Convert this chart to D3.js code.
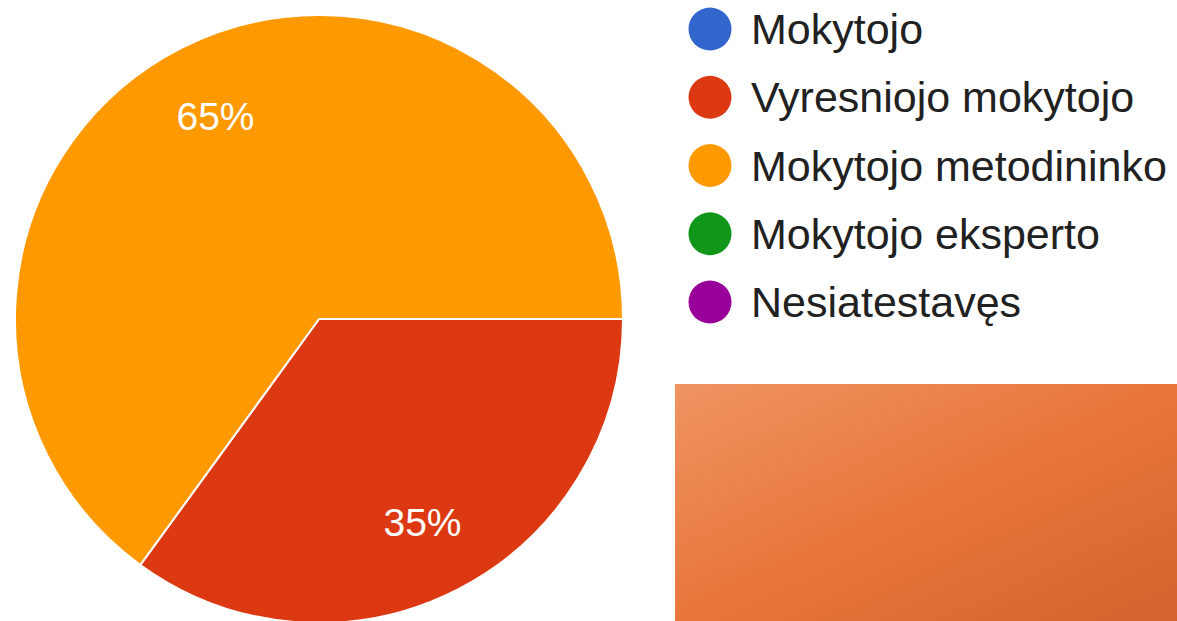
<!DOCTYPE html>
<html>
<head>
<meta charset="utf-8">
<script src="https://cdn.jsdelivr.net/npm/d3@7"></script>
<style>
  html, body { margin: 0; padding: 0; background: #fff; overflow: hidden; }
  svg { display: block; font-family: "Liberation Sans", Arial, sans-serif; }
</style>
</head>
<body>
<div id="chart"></div>
<script>
// categories and their shares (percent of answers)
var categories = ["Mokytojo", "Vyresniojo mokytojo", "Mokytojo metodininko", "Mokytojo eksperto", "Nesiatestavęs"];
var values = [0, 35, 65, 0, 0];
var colors = ["#3366cc", "#dc3912", "#ff9900", "#109618", "#990099"];

var width = 1177,
    height = 621;
var cx = 319, cy = 319,
    radius = 304;

var svg = d3.select("#chart").append("svg")
    .attr("width", width)
    .attr("height", height);

var data = categories.map(function(c, i) { return { name: c, value: values[i], color: colors[i] }; });

var pie = d3.pie()
    .sort(null)
    .startAngle(Math.PI / 2)
    .endAngle(Math.PI / 2 + 2 * Math.PI)
    .value(function(d) { return d.value; });

var arc = d3.arc()
    .innerRadius(0)
    .outerRadius(radius);

var labelArc = d3.arc()
    .innerRadius(radius * 0.75)
    .outerRadius(radius * 0.75);

var total = d3.sum(values);

var g = svg.append("g")
    .attr("transform", "translate(" + cx + "," + cy + ")");

var slices = pie(data).filter(function(d) { return d.data.value > 0; });

g.selectAll("path.slice")
    .data(slices)
  .enter().append("path")
    .attr("class", "slice")
    .attr("d", arc)
    .attr("fill", function(d) { return d.data.color; })
    .attr("stroke", "#fff")
    .attr("stroke-width", 2)
    .attr("stroke-linejoin", "round");

g.selectAll("text.pct")
    .data(slices)
  .enter().append("text")
    .attr("class", "pct")
    .attr("transform", function(d) { return "translate(" + labelArc.centroid(d) + ")"; })
    .attr("text-anchor", "middle")
    .attr("dy", "0.36em")
    .attr("fill", "#fff")
    .style("font-size", "39px")
    .text(function(d) { return Math.round(d.data.value / total * 100) + "%"; });

// legend
var legendY = d3.scalePoint()
    .domain(categories)
    .range([29, 302]);

var legend = svg.append("g").attr("class", "legend");

var item = legend.selectAll("g.item")
    .data(data)
  .enter().append("g")
    .attr("class", "item")
    .attr("transform", function(d) { return "translate(0," + legendY(d.name) + ")"; });

item.append("circle")
    .attr("cx", 710)
    .attr("cy", 0)
    .attr("r", 21.5)
    .attr("fill", function(d) { return d.color; });

item.append("text")
    .attr("x", 751)
    .attr("dy", "0.35em")
    .attr("fill", "#212121")
    .style("font-size", "43px")
    .text(function(d) { return d.name; });

// orange decorative block at the bottom right
var defs = svg.append("defs");
var grad = defs.append("linearGradient")
    .attr("id", "block")
    .attr("x1", "0%").attr("y1", "0%")
    .attr("x2", "100%").attr("y2", "100%");
grad.append("stop").attr("offset", "0%").attr("stop-color", "#ef9462");
grad.append("stop").attr("offset", "50%").attr("stop-color", "#e8763a");
grad.append("stop").attr("offset", "100%").attr("stop-color", "#d2632c");

svg.append("rect")
    .attr("x", 675)
    .attr("y", 384)
    .attr("width", width - 675)
    .attr("height", height - 384)
    .attr("fill", "url(#block)");
</script>
</body>
</html>
